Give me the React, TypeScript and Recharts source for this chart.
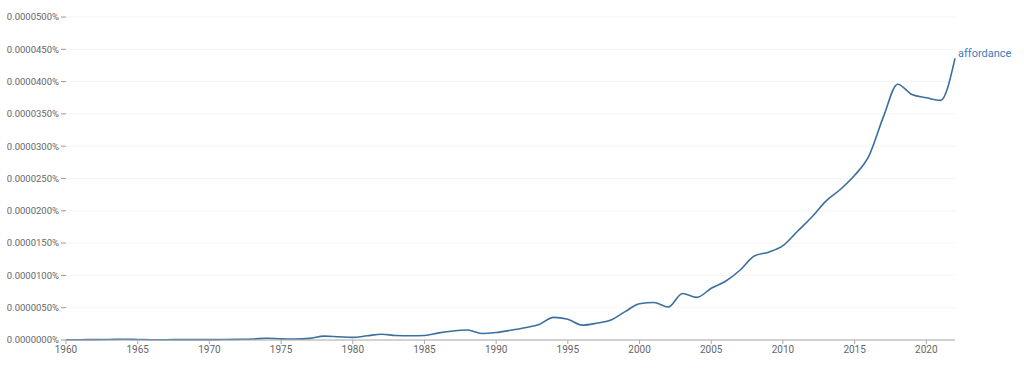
import { LineChart, Line, XAxis, YAxis, CartesianGrid, LabelList } from "recharts";

// years shown on the x axis
const years = [
  1960, 1961, 1962, 1963, 1964, 1965, 1966, 1967, 1968, 1969,
  1970, 1971, 1972, 1973, 1974, 1975, 1976, 1977, 1978, 1979,
  1980, 1981, 1982, 1983, 1984, 1985, 1986, 1987, 1988, 1989,
  1990, 1991, 1992, 1993, 1994, 1995, 1996, 1997, 1998, 1999,
  2000, 2001, 2002, 2003, 2004, 2005, 2006, 2007, 2008, 2009,
  2010, 2011, 2012, 2013, 2014, 2015, 2016, 2017, 2018, 2019,
  2020, 2021, 2022,
];

// frequency of "affordance", in units of 0.0000001%
const affordance = [
  0.5, 0.5, 0.6, 0.8, 1.2, 0.8, 0.5, 0.5, 0.6, 0.6,
  0.6, 0.7, 1.0, 1.5, 2.8, 1.8, 1.5, 2.5, 6, 5,
  4, 6.5, 9, 7, 6.5, 7, 11, 14, 15.5, 10,
  11.5, 15, 19, 24, 35, 32, 23, 26, 31, 44,
  56, 58, 51, 72, 66, 80, 91, 108, 130, 136,
  146, 168, 190, 215, 233, 255, 285, 345, 396, 380,
  375, 371, 436,
];

const seriesName = "affordance";
const yTicks = [0, 50, 100, 150, 200, 250, 300, 350, 400, 450, 500];
const xTicks = [1960, 1965, 1970, 1975, 1980, 1985, 1990, 1995, 2000, 2005, 2010, 2015, 2020];

const data = years.map((year, i) => ({ year, value: affordance[i] }));
const lastIndex = data.length - 1;

function EndLabel({ x, y, index }: any) {
  if (index !== lastIndex) return null;
  return (
    <text x={x + 3} y={y} dy={-1} fill="#3d7cb8" fontSize={11} fontFamily="Roboto, sans-serif">
      {seriesName}
    </text>
  );
}

export default function App() {
  const tickStyle = { fontSize: 10, fill: "#666", fontFamily: "Roboto, sans-serif" };
  return (
    <div style={{ position: "absolute", top: 0, left: 0, width: 1024, height: 368, background: "#fff" }}>
      <LineChart width={1024} height={368} data={data} margin={{ top: 17, right: 69, left: 0, bottom: 8 }}>
        <CartesianGrid stroke="#f4f4f4" vertical={false} />
        <XAxis
          dataKey="year"
          type="number"
          domain={[1960, 2022]}
          ticks={xTicks}
          tick={tickStyle}
          stroke="#aaa"
          tickSize={4}
          height={20}
        />
        <YAxis
          type="number"
          domain={[0, 500]}
          ticks={yTicks}
          tick={{ ...tickStyle, fontSize: 9.5 }}
          tickFormatter={(v) => (v / 1e7).toFixed(7) + "%"}
          axisLine={false}
          tickLine={{ stroke: "#999" }}
          tickSize={5}
          tickMargin={2}
          width={66}
        />
        <Line
          type="monotone"
          dataKey="value"
          stroke="#3a6f9f"
          strokeWidth={1.6}
          dot={false}
          isAnimationActive={false}
        >
          <LabelList dataKey="value" content={<EndLabel />} />
        </Line>
      </LineChart>
    </div>
  );
}
